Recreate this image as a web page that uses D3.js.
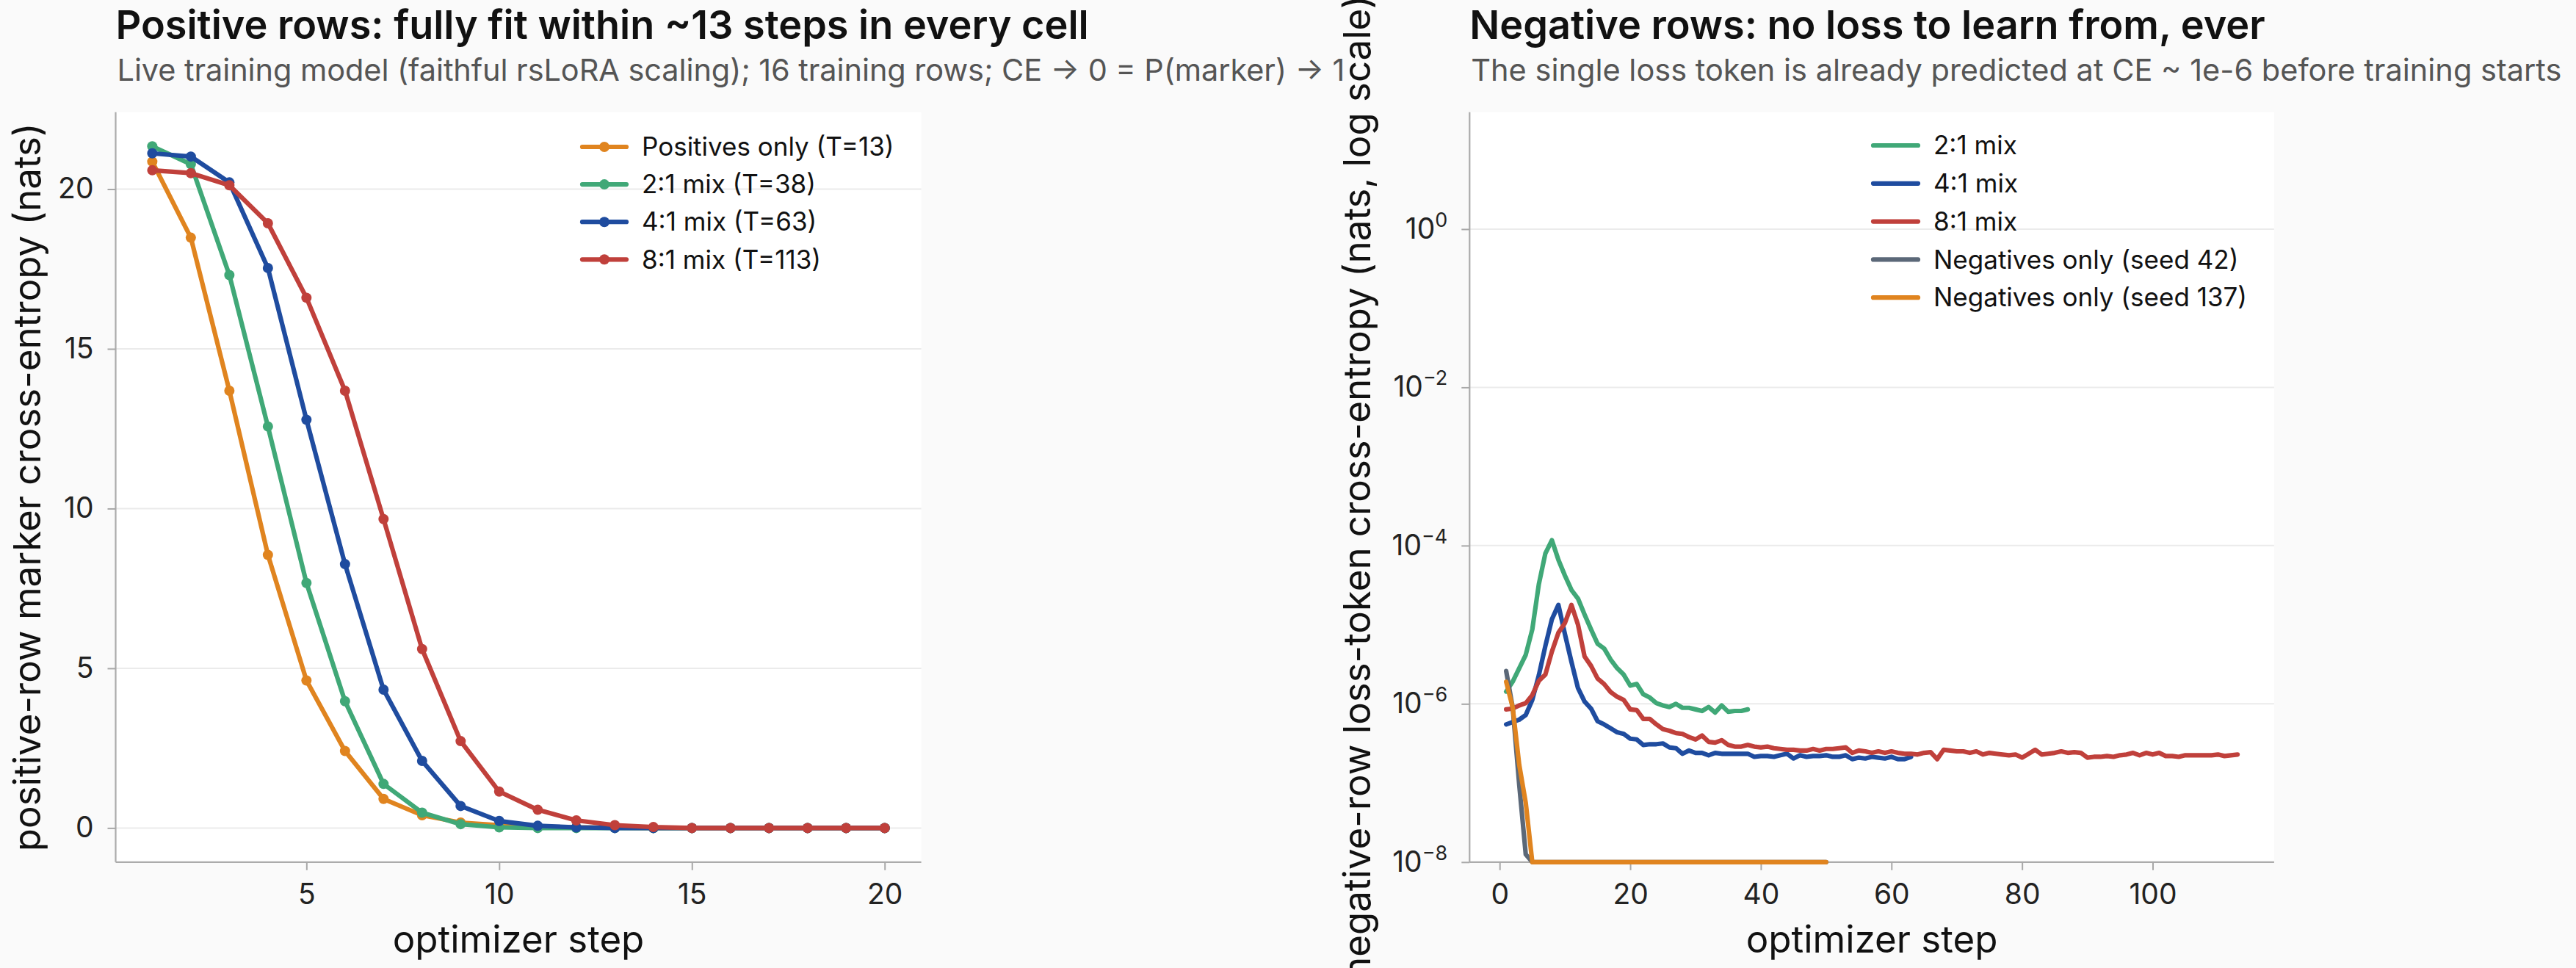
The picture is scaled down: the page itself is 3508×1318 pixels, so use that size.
<!DOCTYPE html>
<html>
<head>
<meta charset="utf-8">
<script src="https://cdn.jsdelivr.net/npm/d3@7"></script>
<style>
body { margin: 0; background: #fafafa; }
svg text { font-family: Inter, "Noto Sans", sans-serif; }
</style>
</head>
<body>
<div id="chart"></div>
<script>
// ---- data: positive rows (left panel) ----
var posSteps = [1, 2, 3, 4, 5, 6, 7, 8, 9, 10, 11, 12, 13, 14, 15, 16, 17, 18, 19, 20];
var posOnly  = [20.86, 18.48, 13.69, 8.55, 4.62, 2.41, 0.91, 0.40, 0.17, 0.09, 0.04, 0.02, 0.01, 0, 0, 0, 0, 0, 0, 0];
var posMix21 = [21.34, 20.78, 17.31, 12.57, 7.67, 3.97, 1.38, 0.48, 0.12, 0.02, 0, 0, 0, 0, 0, 0, 0, 0, 0, 0];
var posMix41 = [21.12, 21.02, 20.21, 17.53, 12.78, 8.26, 4.33, 2.10, 0.69, 0.22, 0.07, 0.02, 0, 0, 0, 0, 0, 0, 0, 0];
var posMix81 = [20.59, 20.50, 20.12, 18.93, 16.60, 13.69, 9.67, 5.60, 2.72, 1.14, 0.57, 0.24, 0.09, 0.03, 0, 0, 0, 0, 0, 0];
var posLabels = ['Positives only (T=13)', '2:1 mix (T=38)', '4:1 mix (T=63)', '8:1 mix (T=113)'];

// ---- data: negative rows (right panel), loss-token CE per step ----
var negMix21 = [1.43e-6, 1.91e-6, 2.82e-6, 4.17e-6, 8.71e-6, 3.24e-5, 7.94e-5, 1.17e-4, 6.61e-5, 4.17e-5,
  2.75e-5, 2.14e-5, 1.35e-5, 8.71e-6, 5.75e-6, 5.01e-6, 3.63e-6, 2.82e-6, 2.34e-6, 1.70e-6,
  1.78e-6, 1.32e-6, 1.20e-6, 1.02e-6, 9.55e-7, 9.12e-7, 1.00e-6, 8.91e-7, 8.91e-7, 8.51e-7,
  8.13e-7, 9.12e-7, 7.76e-7, 9.55e-7, 7.94e-7, 8.13e-7, 8.13e-7, 8.51e-7];
var negMix41 = [5.50e-7, 5.89e-7, 6.31e-7, 7.24e-7, 1.12e-6, 2.29e-6, 5.37e-6, 1.17e-5, 1.78e-5, 7.59e-6,
  3.39e-6, 1.58e-6, 1.07e-6, 8.71e-7, 6.03e-7, 5.50e-7, 4.90e-7, 4.37e-7, 4.17e-7, 3.63e-7,
  3.55e-7, 3.02e-7, 3.09e-7, 3.09e-7, 3.16e-7, 2.82e-7, 2.75e-7, 2.34e-7, 2.57e-7, 2.40e-7,
  2.40e-7, 2.24e-7, 2.40e-7, 2.34e-7, 2.34e-7, 2.34e-7, 2.34e-7, 2.34e-7, 2.14e-7, 2.19e-7,
  2.19e-7, 2.14e-7, 2.24e-7, 2.34e-7, 2.04e-7, 2.24e-7, 2.14e-7, 2.19e-7, 2.19e-7, 2.24e-7,
  2.14e-7, 2.14e-7, 2.24e-7, 2.00e-7, 2.09e-7, 2.04e-7, 2.14e-7, 2.09e-7, 2.04e-7, 2.14e-7,
  2.00e-7, 2.00e-7, 2.14e-7];
var negMix81 = [8.51e-7, 8.71e-7, 9.55e-7, 1.02e-6, 1.29e-6, 1.95e-6, 2.34e-6, 4.57e-6, 7.94e-6, 1.05e-5,
  1.78e-5, 1.00e-5, 3.98e-6, 3.02e-6, 2.09e-6, 1.78e-6, 1.41e-6, 1.23e-6, 1.12e-6, 8.51e-7,
  8.32e-7, 6.46e-7, 6.46e-7, 5.50e-7, 4.79e-7, 4.57e-7, 4.27e-7, 4.17e-7, 3.80e-7, 3.55e-7,
  3.98e-7, 3.31e-7, 3.24e-7, 3.47e-7, 3.02e-7, 2.88e-7, 2.88e-7, 3.02e-7, 2.88e-7, 2.82e-7,
  2.88e-7, 2.75e-7, 2.69e-7, 2.63e-7, 2.63e-7, 2.57e-7, 2.57e-7, 2.69e-7, 2.57e-7, 2.69e-7,
  2.69e-7, 2.75e-7, 2.82e-7, 2.40e-7, 2.57e-7, 2.51e-7, 2.40e-7, 2.51e-7, 2.40e-7, 2.51e-7,
  2.40e-7, 2.34e-7, 2.34e-7, 2.29e-7, 2.40e-7, 2.45e-7, 2.00e-7, 2.63e-7, 2.57e-7, 2.51e-7,
  2.51e-7, 2.40e-7, 2.51e-7, 2.29e-7, 2.40e-7, 2.34e-7, 2.29e-7, 2.24e-7, 2.29e-7, 2.09e-7,
  2.34e-7, 2.63e-7, 2.29e-7, 2.34e-7, 2.40e-7, 2.51e-7, 2.40e-7, 2.45e-7, 2.40e-7, 2.09e-7,
  2.14e-7, 2.14e-7, 2.19e-7, 2.14e-7, 2.24e-7, 2.29e-7, 2.40e-7, 2.24e-7, 2.40e-7, 2.29e-7,
  2.40e-7, 2.19e-7, 2.19e-7, 2.14e-7, 2.24e-7, 2.24e-7, 2.24e-7, 2.24e-7, 2.24e-7, 2.29e-7,
  2.19e-7, 2.24e-7, 2.29e-7];
// negatives-only runs hit zero loss after a few steps (shown at the 1e-8 floor)
var negOnly42 = [2.6e-6, 9.0e-7, 9.5e-8, 1.25e-8, 0, 0, 0, 0, 0, 0,
  0, 0, 0, 0, 0, 0, 0, 0, 0, 0, 0, 0, 0, 0, 0, 0, 0, 0, 0, 0,
  0, 0, 0, 0, 0, 0, 0, 0, 0, 0, 0, 0, 0, 0, 0, 0, 0, 0, 0, 0];
var negOnly137 = [1.9e-6, 9.0e-7, 1.7e-7, 5.6e-8, 0, 0, 0, 0, 0, 0,
  0, 0, 0, 0, 0, 0, 0, 0, 0, 0, 0, 0, 0, 0, 0, 0, 0, 0, 0, 0,
  0, 0, 0, 0, 0, 0, 0, 0, 0, 0, 0, 0, 0, 0, 0, 0, 0, 0, 0, 0];
var negLabels = ['2:1 mix', '4:1 mix', '8:1 mix', 'Negatives only (seed 42)', 'Negatives only (seed 137)'];
var logTicks = [1e-8, 1e-6, 1e-4, 1e-2, 1];

(function() {
var C = {orange: '#e0841f', green: '#40a877', blue: '#1f4c9f', red: '#c0403b', gray: '#5b6878'};

var W = 3508, H = 1318;
var svg = d3.select('#chart').append('svg').attr('width', W).attr('height', H);
svg.append('rect').attr('width', W).attr('height', H).attr('fill', '#fafafa');

var plotTop = 152.8, plotBottom = 1173.8;

function pad(ext, f) { var r = ext[1] - ext[0]; return [ext[0] - r * f, ext[1] + r * f]; }

function axesBase(x0, x1, title, subtitle, subLen, ylabel, ylabelX) {
    var g = svg.append('g');
    g.append('rect').attr('x', x0).attr('y', plotTop).attr('width', x1 - x0)
        .attr('height', plotBottom - plotTop).attr('fill', '#ffffff');
    svg.append('text').attr('x', x0).attr('y', 53).attr('font-size', 54).attr('font-weight', 600)
        .attr('fill', '#111').text(title);
    var st = svg.append('text').attr('x', x0 + 2).attr('y', 110).attr('font-size', 41.5)
        .attr('fill', '#555').text(subtitle);
    if (subLen) st.attr('textLength', subLen).attr('lengthAdjust', 'spacing');
    svg.append('text').attr('x', (x0 + x1) / 2).attr('y', 1297).attr('font-size', 51)
        .attr('text-anchor', 'middle').attr('fill', '#111').text('optimizer step');
    svg.append('text')
        .attr('transform', 'translate(' + ylabelX + ',' + ((plotTop + plotBottom) / 2) + ') rotate(-90)')
        .attr('font-size', 51).attr('text-anchor', 'middle').attr('fill', '#111').text(ylabel);
    return g;
}

function styleAxis(sel) {
    sel.select('.domain').remove();
    sel.selectAll('.tick line').attr('stroke', '#a8a8a8').attr('stroke-width', 2);
    sel.selectAll('.tick text').attr('font-size', 39).attr('fill', '#222')
        .attr('font-family', 'Inter, sans-serif');
}

function grid(g, y, ticks, x0, x1) {
    g.selectAll(null).data(ticks).enter().append('line')
        .attr('x1', x0).attr('x2', x1)
        .attr('y1', function(d) { return y(d); }).attr('y2', function(d) { return y(d); })
        .attr('stroke', '#ebebeb').attr('stroke-width', 2);
}

function spines(g, x0, x1) {
    g.append('line').attr('x1', x0).attr('x2', x0).attr('y1', plotTop).attr('y2', plotBottom)
        .attr('stroke', '#ababab').attr('stroke-width', 2.2);
    g.append('line').attr('x1', x0).attr('x2', x1).attr('y1', plotBottom).attr('y2', plotBottom)
        .attr('stroke', '#ababab').attr('stroke-width', 2.2);
}

// ---------- left panel ----------
(function() {
    var x0 = 157.5, x1 = 1254.6;
    var g = axesBase(x0, x1, 'Positive rows: fully fit within ~13 steps in every cell',
        'Live training model (faithful rsLoRA scaling); 16 training rows; CE \u2192 0 = P(marker) \u2192 1', 1672,
        'positive-row marker cross-entropy (nats)', 55);
    var series = [
        {v: posOnly, c: C.orange}, {v: posMix21, c: C.green},
        {v: posMix41, c: C.blue}, {v: posMix81, c: C.red}];
    var all = d3.merge(series.map(function(s) { return s.v; }));
    var x = d3.scaleLinear().domain(pad(d3.extent(posSteps), 0.05)).range([x0, x1]);
    var y = d3.scaleLinear().domain(pad(d3.extent(all), 0.05)).range([plotBottom, plotTop]);
    var yt = [0, 5, 10, 15, 20];
    grid(g, y, yt, x0, x1);
    spines(g, x0, x1);
    g.append('g').attr('transform', 'translate(0,' + plotBottom + ')')
        .call(d3.axisBottom(x).tickValues([5, 10, 15, 20]).tickSize(11).tickPadding(19)).call(styleAxis);
    g.append('g').attr('transform', 'translate(' + x0 + ',0)')
        .call(d3.axisLeft(y).tickValues(yt).tickSize(11).tickPadding(19)).call(styleAxis);

    var line = d3.line().x(function(d, i) { return x(posSteps[i]); }).y(function(d) { return y(d); });
    series.forEach(function(s) {
        g.append('path').attr('d', line(s.v)).attr('fill', 'none').attr('stroke', s.c)
            .attr('stroke-width', 6.2).attr('stroke-linejoin', 'round').attr('stroke-linecap', 'round');
        g.selectAll(null).data(s.v).enter().append('circle')
            .attr('cx', function(d, i) { return x(posSteps[i]); }).attr('cy', function(d) { return y(d); })
            .attr('r', 7).attr('fill', s.c);
    });
    // legend
    var lg = g.append('g');
    series.forEach(function(s, i) {
        var ly = 200 + i * 51.1;
        lg.append('line').attr('x1', 793).attr('x2', 853).attr('y1', ly).attr('y2', ly)
            .attr('stroke', s.c).attr('stroke-width', 6.2).attr('stroke-linecap', 'round');
        lg.append('circle').attr('cx', 823).attr('cy', ly).attr('r', 7).attr('fill', s.c);
        lg.append('text').attr('x', 874).attr('y', ly).attr('dy', '0.35em').attr('font-size', 35)
            .attr('fill', '#111').text(posLabels[i]);
    });
})();

// ---------- right panel ----------
(function() {
    var x0 = 2001.3, x1 = 3096.9;
    var g = axesBase(x0, x1, 'Negative rows: no loss to learn from, ever',
        'The single loss token is already predicted at CE ~ 1e-6 before training starts', null,
        'negative-row loss-token cross-entropy (nats, log scale)', 1866);
    var floor = 1e-8;
    var series = [
        {v: negMix21, c: C.green}, {v: negMix41, c: C.blue}, {v: negMix81, c: C.red},
        {v: negOnly42, c: C.gray}, {v: negOnly137, c: C.orange}];
    var x = d3.scaleLinear().domain(pad([1, negMix81.length], 0.05)).range([x0, x1]);
    var y = d3.scaleLog().domain([floor, 30]).range([plotBottom, plotTop]);
    grid(g, y, logTicks, x0, x1);
    spines(g, x0, x1);
    g.append('g').attr('transform', 'translate(0,' + plotBottom + ')')
        .call(d3.axisBottom(x).tickValues([0, 20, 40, 60, 80, 100]).tickSize(11).tickPadding(19)).call(styleAxis);
    var ga = g.append('g').attr('transform', 'translate(' + x0 + ',0)')
        .call(d3.axisLeft(y).tickValues(logTicks).tickSize(11).tickPadding(19)).call(styleAxis);
    ga.selectAll('.tick text').each(function(d) {
        var e = Math.round(Math.log10(d));
        var t = d3.select(this).text('10');
        t.append('tspan').attr('dy', '-0.6em').attr('font-size', 27)
            .text(e < 0 ? '\u2212' + (-e) : String(e));
    });

    var line = d3.line().x(function(d, i) { return x(i + 1); })
        .y(function(d) { return y(Math.max(d, floor)); });
    series.forEach(function(s) {
        g.append('path').attr('d', line(s.v)).attr('fill', 'none').attr('stroke', s.c)
            .attr('stroke-width', 6.2).attr('stroke-linejoin', 'round').attr('stroke-linecap', 'round');
    });
    var lg = g.append('g');
    series.forEach(function(s, i) {
        var ly = 198 + i * 51.8;
        lg.append('line').attr('x1', 2551).attr('x2', 2612).attr('y1', ly).attr('y2', ly)
            .attr('stroke', s.c).attr('stroke-width', 6.2).attr('stroke-linecap', 'round');
        lg.append('text').attr('x', 2633).attr('y', ly).attr('dy', '0.35em').attr('font-size', 35)
            .attr('fill', '#111').text(negLabels[i]);
    });
})();
})();
</script>
</body>
</html>
